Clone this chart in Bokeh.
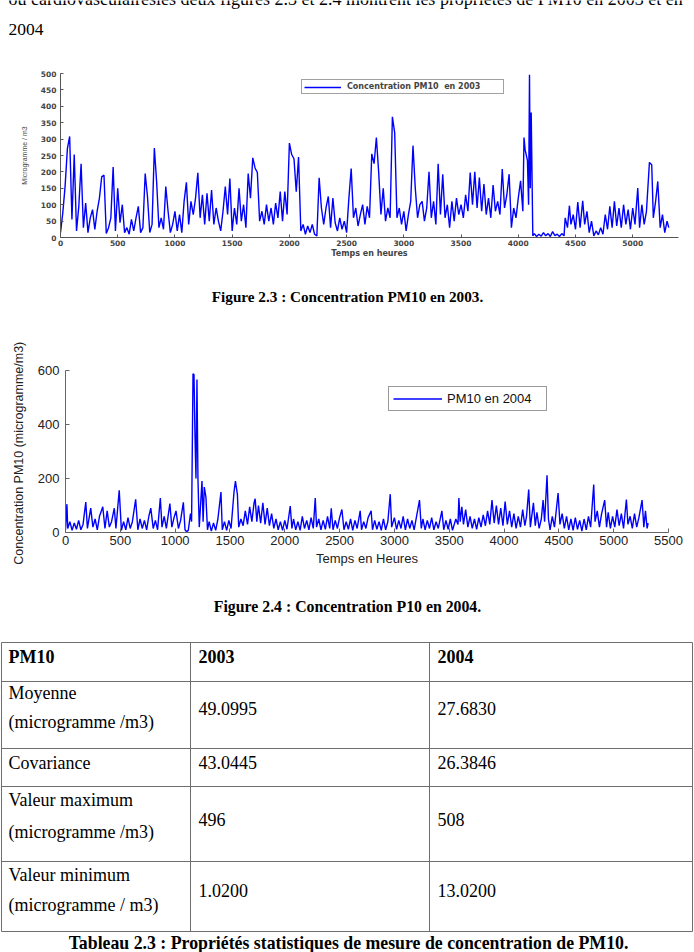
from bokeh.plotting import figure
from bokeh.models import Range1d, FixedTicker
from bokeh.core.properties import value
from bokeh.embed import file_html
from bokeh.resources import INLINE

# ---------------- data ----------------
hours_2003 = [
    0, 20, 40, 60, 80, 100, 120, 140, 160, 180,
    200, 220, 240, 260, 280, 300, 320, 340, 360, 380,
    400, 420, 440, 460, 480, 500, 520, 540, 560, 580,
    600, 620, 640, 660, 680, 700, 720, 740, 760, 780,
    800, 820, 840, 860, 880, 900, 920, 940, 960, 980,
    1000, 1020, 1040, 1060, 1080, 1100, 1120, 1140, 1160, 1180,
    1200, 1220, 1240, 1260, 1280, 1300, 1320, 1340, 1360, 1380,
    1400, 1420, 1440, 1460, 1480, 1500, 1520, 1540, 1560, 1580,
    1600, 1620, 1640, 1660, 1680, 1700, 1720, 1740, 1760, 1780,
    1800, 1820, 1840, 1860, 1880, 1900, 1920, 1940, 1960, 1980,
    2000, 2020, 2040, 2060, 2080, 2100, 2120, 2140, 2160, 2180,
    2200, 2220, 2240, 2260, 2280, 2300, 2320, 2340, 2360, 2380,
    2400, 2420, 2440, 2460, 2480, 2500, 2520, 2540, 2560, 2580,
    2600, 2620, 2640, 2660, 2680, 2700, 2720, 2740, 2760, 2780,
    2800, 2820, 2840, 2860, 2880, 2900, 2920, 2940, 2960, 2980,
    3000, 3020, 3040, 3060, 3080, 3100, 3120, 3140, 3160, 3180,
    3200, 3220, 3240, 3260, 3280, 3300, 3320, 3340, 3360, 3380,
    3400, 3420, 3440, 3460, 3480, 3500, 3520, 3540, 3560, 3580,
    3600, 3620, 3640, 3660, 3680, 3700, 3720, 3740, 3760, 3780,
    3800, 3820, 3840, 3860, 3880, 3900, 3920, 3940, 3960, 3980,
    4000, 4020, 4040, 4050, 4060, 4080, 4090, 4098, 4105, 4113,
    4127, 4140, 4160, 4180, 4200, 4220, 4240, 4260, 4280, 4300,
    4320, 4340, 4360, 4380, 4400, 4410, 4430, 4447, 4460, 4480,
    4500, 4520, 4540, 4563, 4580, 4600, 4620, 4640, 4660, 4680,
    4700, 4720, 4740, 4760, 4780, 4800, 4820, 4840, 4860, 4880,
    4900, 4920, 4940, 4960, 4980, 5000, 5020, 5044, 5060, 5080,
    5100, 5120, 5146, 5166, 5180, 5200, 5219, 5240, 5260, 5280,
    5300, 5315,
]
pm10_2003 = [
    15, 75, 155, 270, 308, 55, 253, 20, 95, 225,
    30, 105, 15, 60, 85, 25, 80, 120, 185, 190,
    12, 30, 60, 215, 20, 150, 45, 100, 15, 30,
    10, 55, 20, 60, 95, 15, 30, 195, 125, 15,
    40, 273, 170, 30, 60, 25, 155, 80, 15, 40,
    80, 20, 70, 15, 110, 168, 40, 110, 70, 120,
    197, 60, 130, 40, 135, 50, 145, 40, 90, 50,
    20, 80, 155, 70, 180, 20, 90, 40, 150, 50,
    100, 30, 195, 120, 243, 212, 198, 50, 80, 40,
    100, 50, 90, 40, 105, 60, 140, 50, 140, 70,
    288, 253, 240, 140, 245, 20, 40, 10, 35, 15,
    40, 10, 5, 182, 90, 40, 90, 125, 30, 120,
    45, 20, 60, 25, 50, 15, 120, 210, 60, 90,
    35, 70, 100, 40, 95, 60, 255, 225, 305, 200,
    70, 150, 50, 90, 60, 368, 320, 60, 90, 40,
    80, 20, 70, 110, 280, 150, 60, 100, 110, 50,
    90, 200, 60, 110, 40, 225, 70, 193, 60, 100,
    30, 110, 50, 120, 70, 100, 60, 130, 80, 198,
    100, 200, 90, 183, 80, 163, 70, 120, 60, 160,
    80, 110, 70, 209, 90, 130, 193, 30, 90, 60,
    120, 173, 80, 305, 267, 235, 100, 496, 150, 381,
    5, 12, 3, 10, 4, 15, 5, 12, 3, 18,
    6, 10, 3, 12, 5, 60, 30, 97, 40, 70,
    25, 108, 30, 112, 40, 80, 15, 50, 5, 20,
    8, 30, 10, 70, 25, 95, 30, 110, 35, 90,
    30, 100, 40, 85, 25, 90, 40, 151, 30, 100,
    40, 80, 229, 222, 60, 110, 171, 30, 70, 15,
    50, 30,
]

hours_2004 = [
    0, 13, 20, 40, 60, 80, 100, 120, 140, 160,
    185, 200, 230, 250, 270, 290, 310, 340, 360, 380,
    400, 420, 445, 460, 490, 510, 530, 550, 570, 590,
    610, 640, 660, 680, 700, 720, 740, 760, 778, 800,
    820, 840, 865, 880, 900, 920, 952, 970, 990, 1008,
    1030, 1050, 1075, 1090, 1105, 1120, 1140, 1150, 1163, 1172,
    1181, 1190, 1199, 1208, 1220, 1245, 1255, 1266, 1281, 1295,
    1310, 1330, 1350, 1370, 1390, 1418, 1430, 1450, 1470, 1490,
    1510, 1537, 1550, 1568, 1580, 1600, 1620, 1640, 1660, 1680,
    1700, 1720, 1730, 1745, 1760, 1780, 1800, 1820, 1840, 1860,
    1880, 1900, 1920, 1940, 1960, 1980, 2000, 2020, 2050, 2065,
    2080, 2100, 2120, 2140, 2160, 2180, 2200, 2220, 2240, 2260,
    2278, 2290, 2310, 2330, 2350, 2370, 2390, 2410, 2424, 2440,
    2460, 2480, 2500, 2521, 2540, 2560, 2580, 2600, 2620, 2640,
    2660, 2688, 2700, 2720, 2740, 2760, 2788, 2800, 2820, 2840,
    2860, 2880, 2900, 2920, 2940, 2962, 2975, 3000, 3020, 3040,
    3060, 3080, 3100, 3120, 3140, 3160, 3180, 3200, 3229, 3245,
    3260, 3280, 3300, 3320, 3340, 3360, 3380, 3400, 3433, 3450,
    3470, 3490, 3510, 3530, 3560, 3580, 3588, 3600, 3615, 3630,
    3650, 3670, 3690, 3710, 3730, 3750, 3770, 3790, 3810, 3830,
    3850, 3870, 3890, 3910, 3930, 3950, 3970, 3990, 4010, 4030,
    4050, 4070, 4090, 4110, 4130, 4150, 4170, 4190, 4205, 4225,
    4240, 4268, 4285, 4300, 4320, 4340, 4356, 4370, 4392, 4405,
    4420, 4440, 4460, 4493, 4510, 4530, 4550, 4570, 4590, 4610,
    4630, 4650, 4670, 4690, 4710, 4730, 4750, 4770, 4790, 4818,
    4830, 4850, 4870, 4890, 4918, 4935, 4950, 4970, 4990, 5010,
    5030, 5050, 5070, 5090, 5116, 5130, 5150, 5170, 5190, 5210,
    5230, 5259, 5275, 5290, 5305, 5314,
]
pm10_2004 = [
    10, 105, 15, 40, 8, 35, 12, 45, 10, 30,
    113, 15, 90, 20, 50, 10, 60, 95, 15, 80,
    20, 40, 90, 15, 156, 8, 40, 10, 55, 15,
    40, 123, 10, 50, 15, 45, 10, 60, 90, 15,
    45, 10, 128, 20, 60, 15, 107, 20, 55, 80,
    15, 45, 112, 10, 3, 8, 70, 40, 588, 585,
    360, 200, 567, 200, 20, 191, 40, 168, 130, 10,
    40, 5, 35, 8, 50, 150, 10, 40, 8, 45,
    15, 150, 190, 140, 20, 50, 25, 80, 30, 95,
    40, 110, 125, 40, 100, 35, 110, 30, 90, 25,
    70, 15, 50, 10, 40, 8, 45, 12, 98, 15,
    50, 10, 40, 8, 60, 15, 45, 10, 55, 15,
    128, 20, 50, 10, 45, 12, 60, 15, 90, 10,
    45, 15, 55, 85, 10, 40, 12, 50, 8, 45,
    15, 80, 10, 40, 15, 55, 80, 10, 45, 12,
    40, 8, 50, 10, 40, 142, 20, 55, 12, 45,
    15, 60, 10, 50, 15, 45, 10, 55, 120, 15,
    50, 10, 45, 15, 55, 10, 40, 15, 80, 10,
    45, 12, 50, 8, 50, 30, 128, 40, 95, 30,
    85, 20, 60, 15, 50, 12, 55, 20, 65, 25,
    80, 30, 120, 35, 100, 30, 90, 25, 115, 30,
    80, 20, 70, 15, 60, 20, 85, 25, 60, 159,
    20, 110, 25, 75, 15, 50, 120, 40, 212, 50,
    10, 60, 20, 146, 30, 70, 15, 60, 10, 50,
    8, 55, 12, 45, 5, 50, 10, 60, 20, 178,
    40, 80, 20, 70, 120, 20, 75, 15, 60, 20,
    85, 25, 70, 15, 122, 30, 60, 15, 70, 20,
    55, 120, 20, 80, 15, 35,
]

x_ticks_2003 = [0, 500, 1000, 1500, 2000, 2500, 3000, 3500, 4000, 4500, 5000]
y_ticks_2003 = [0, 50, 100, 150, 200, 250, 300, 350, 400, 450, 500]
x_ticks_2004 = [0, 500, 1000, 1500, 2000, 2500, 3000, 3500, 4000, 4500, 5000, 5500]
y_ticks_2004 = [0, 200, 400, 600]

table_header = ["PM10", "2003", "2004"]
row_label_1 = ["Moyenne", "Covariance", "Valeur maximum", "Valeur minimum"]
row_label_2 = ["(microgramme /m3)", "", "(microgramme /m3)", "(microgramme / m3)"]
stats_2003 = ["49.0995", "43.0445", "496", "1.0200"]
stats_2004 = ["27.6830", "26.3846", "508", "13.0200"]

intro_line = "ou cardiovasculairesles deux figures 2.3 et 2.4 montrent les propriétés de PM10 en 2003 et en"
intro_line2 = "2004"
caption_1 = "Figure 2.3 : Concentration PM10 en 2003."
caption_2 = "Figure 2.4 : Concentration P10 en 2004."
caption_3 = "Tableau 2.3 : Propriétés statistiques de mesure de concentration de PM10."

W = 694
SERIF = value("Liberation Serif")


def page_block(top, bottom):
    p = figure(width=W, height=bottom - top, x_range=Range1d(0, W),
               y_range=Range1d(bottom, top), output_backend="svg",
               toolbar_location=None, min_border=0,
               x_axis_type=None, y_axis_type=None)
    p.grid.visible = False
    p.outline_line_color = None
    p.background_fill_color = "white"
    p.border_fill_color = "white"
    return p


# ---------- block A : paragraph text ----------
pa = page_block(0, 60)
pa.text(x=[8], y=[-2], text=[intro_line], text_font=SERIF, text_font_size="18px",
        text_baseline="middle", text_color="black")
pa.text(x=[8], y=[29], text=[intro_line2], text_font=SERIF, text_font_size="17.5px",
        text_baseline="middle", text_color="black")

# ---------- block B : chart 2003 ----------
p1 = figure(width=W, height=215, x_range=Range1d(0, 5400), y_range=Range1d(0, 500),
            output_backend="svg", toolbar_location=None,
            min_border_left=60, min_border_right=16, min_border_top=13, min_border_bottom=38)
p1.line(hours_2003, pm10_2003, line_color="#0000ff", line_width=1.4,
        legend_label="Concentration PM10  en 2003")
p1.grid.visible = False
p1.outline_line_color = None
p1.xaxis.ticker = FixedTicker(ticks=x_ticks_2003)
p1.yaxis.ticker = FixedTicker(ticks=y_ticks_2003)
for ax in (p1.xaxis[0], p1.yaxis[0]):
    ax.major_tick_in = 3
    ax.major_tick_out = 0
    ax.minor_tick_in = 0
    ax.minor_tick_out = 0
    ax.axis_line_color = "#555555"
    ax.major_tick_line_color = "#555555"
    ax.major_label_text_font = "DejaVu Sans"
    ax.major_label_text_font_size = "7.5px"
    ax.major_label_text_font_style = "bold"
    ax.major_label_text_color = "#444444"
p1.xaxis.axis_label = "Temps en heures"
p1.xaxis.axis_label_text_font = "DejaVu Sans"
p1.xaxis.axis_label_text_font_size = "8px"
p1.xaxis.axis_label_text_font_style = "bold"
p1.xaxis.axis_label_text_color = "#444444"
p1.xaxis.major_label_standoff = 2
p1.xaxis.axis_label_standoff = 0
p1.yaxis.axis_label = "Microgramme / m3"
p1.yaxis.axis_label_text_font = "Liberation Sans"
p1.yaxis.axis_label_text_font_size = "7px"
p1.yaxis.axis_label_text_font_style = "normal"
p1.yaxis.axis_label_text_color = "#444444"
p1.yaxis.major_label_standoff = 4
p1.yaxis.axis_label_standoff = 10
lg1 = p1.legend[0]
lg1.location = (241, 143)
lg1.padding = 2
lg1.margin = 0
lg1.spacing = 0
lg1.glyph_width = 37
lg1.glyph_height = 8
lg1.label_height = 8
lg1.label_width = 154
lg1.label_standoff = 6
lg1.label_text_font = "DejaVu Sans"
lg1.label_text_font_size = "8px"
lg1.label_text_font_style = "bold"
lg1.label_text_color = "#444444"
lg1.border_line_color = "#444444"
lg1.border_line_width = 1
lg1.background_fill_alpha = 1

# ---------- block C : caption 1 ----------
pc = page_block(275, 325)
pc.text(x=[347], y=[296], text=[caption_1], text_font=SERIF, text_font_size="15.2px",
        text_font_style="bold", text_align="center", text_baseline="middle", text_color="black")

# ---------- block D : chart 2004 ----------
p2 = figure(width=W, height=260, x_range=Range1d(0, 5500), y_range=Range1d(0, 600),
            output_backend="svg", toolbar_location=None,
            min_border_left=65, min_border_right=26, min_border_top=45, min_border_bottom=53)
p2.line(hours_2004, pm10_2004, line_color="#0000ff", line_width=1.4,
        legend_label="PM10 en 2004")
p2.grid.visible = False
p2.outline_line_color = None
p2.xaxis.ticker = FixedTicker(ticks=x_ticks_2004)
p2.yaxis.ticker = FixedTicker(ticks=y_ticks_2004)
for ax in (p2.xaxis[0], p2.yaxis[0]):
    ax.major_tick_in = 4
    ax.major_tick_out = 0
    ax.minor_tick_in = 0
    ax.minor_tick_out = 0
    ax.axis_line_color = "#666666"
    ax.major_tick_line_color = "#666666"
    ax.major_label_text_font = "Liberation Sans"
    ax.major_label_text_font_size = "13px"
    ax.major_label_text_color = "#222222"
    ax.axis_label_text_font = "Liberation Sans"
    ax.axis_label_text_font_size = "13px"
    ax.axis_label_text_font_style = "normal"
    ax.axis_label_text_color = "#222222"
p2.xaxis.axis_label = "Temps en Heures"
p2.xaxis.major_label_standoff = 3
p2.xaxis.axis_label_standoff = 3
p2.yaxis.axis_label = "Concentration PM10  (microgramme/m3)"
p2.yaxis.axis_label_text_font_size = "12.5px"
p2.yaxis.major_label_standoff = 6
p2.yaxis.axis_label_standoff = 9
lg2 = p2.legend[0]
lg2.location = (323, 121)
lg2.padding = 4
lg2.margin = 0
lg2.spacing = 0
lg2.glyph_width = 49
lg2.glyph_height = 15
lg2.label_height = 15
lg2.label_width = 95
lg2.label_standoff = 5
lg2.label_text_font = "Liberation Sans"
lg2.label_text_font_size = "13px"
lg2.label_text_color = "#111111"
lg2.border_line_color = "#333333"
lg2.border_line_width = 1

# ---------- block E : caption 2 + table + caption 3 ----------
pe = page_block(585, 952)
pe.text(x=[347], y=[606], text=[caption_2], text_font=SERIF, text_font_size="15.8px",
        text_font_style="bold", text_align="center", text_baseline="middle", text_color="black")

col_edges = [1, 190, 429, 692]
row_edges = [642, 681, 748, 786, 861, 931]
pe.segment(x0=[col_edges[0]] * len(row_edges), x1=[col_edges[-1]] * len(row_edges),
           y0=row_edges, y1=row_edges, line_color="#6e6e6e", line_width=1)
pe.segment(x0=col_edges, x1=col_edges, y0=[row_edges[0]] * len(col_edges),
           y1=[row_edges[-1]] * len(col_edges), line_color="#6e6e6e", line_width=1)

FS = "18px"
text_x = [8, 198, 437]
pe.text(x=text_x, y=[656] * 3, text=table_header, text_font=SERIF, text_font_size=FS,
        text_font_style="bold", text_baseline="middle", text_color="black")

label1_y = [692, 762, 799, 874]
label2_y = [721, 0, 831, 904]
value_y = [708, 762, 819, 890]
pe.text(x=[8] * 4, y=label1_y, text=row_label_1, text_font=SERIF, text_font_size=FS,
        text_baseline="middle", text_color="black")
l2x = [8 for s in row_label_2 if s]
l2y = [y for s, y in zip(row_label_2, label2_y) if s]
l2t = [s for s in row_label_2 if s]
pe.text(x=l2x, y=l2y, text=l2t, text_font=SERIF, text_font_size=FS,
        text_baseline="middle", text_color="black")
pe.text(x=[198] * 4, y=value_y, text=stats_2003, text_font=SERIF, text_font_size=FS,
        text_baseline="middle", text_color="black")
pe.text(x=[437] * 4, y=value_y, text=stats_2004, text_font=SERIF, text_font_size=FS,
        text_baseline="middle", text_color="black")

pe.text(x=[348], y=[942], text=[caption_3], text_font=SERIF, text_font_size="17.8px",
        text_font_style="bold", text_align="center", text_baseline="middle", text_color="black")

open("out.html", "w").write(file_html([pa, p1, pc, p2, pe], INLINE))
